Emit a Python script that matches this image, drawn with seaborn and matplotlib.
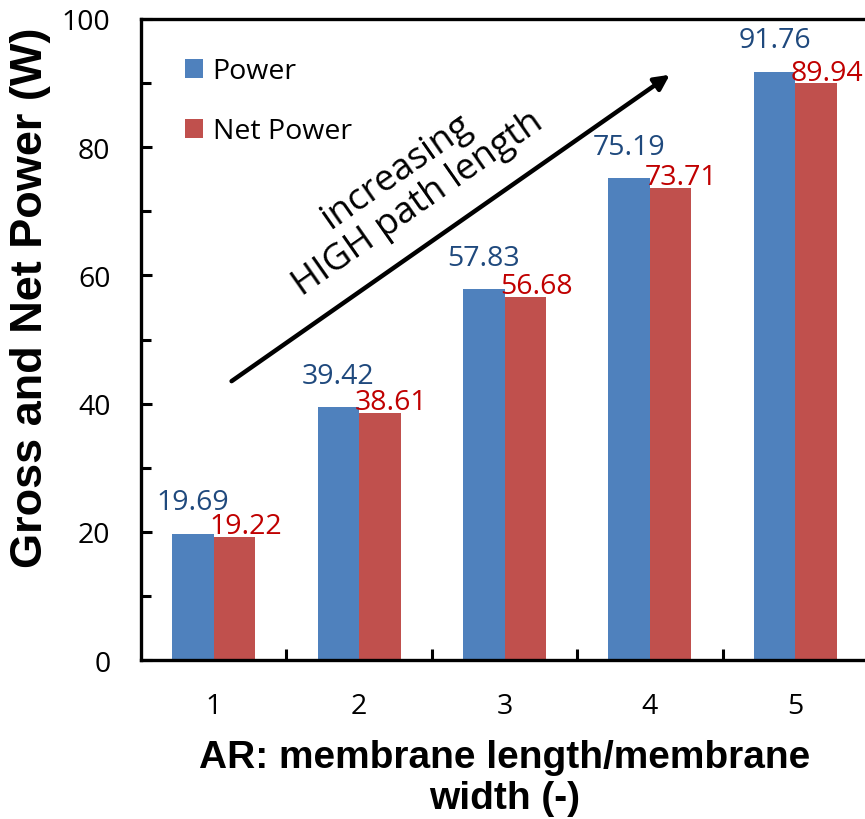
import matplotlib
matplotlib.use("Agg")
import matplotlib.pyplot as plt
import seaborn as sns
import pandas as pd
from matplotlib.ticker import MultipleLocator
from matplotlib import font_manager

categories = ["1", "2", "3", "4", "5"]
power = [19.69, 39.42, 57.83, 75.19, 91.76]
net_power = [19.22, 38.61, 56.68, 73.71, 89.94]
series_names = ["Power", "Net Power"]

df = pd.DataFrame({
    "AR": categories * 2,
    "value": power + net_power,
    "series": [series_names[0]] * len(categories) + [series_names[1]] * len(categories),
})

sns.set_style("white")
plt.rcParams["font.family"] = ["Open Sans", "DejaVu Sans"]
plt.rcParams["text.color"] = "black"
plt.rcParams["axes.labelcolor"] = "black"
plt.rcParams["xtick.color"] = "black"
plt.rcParams["ytick.color"] = "black"

# narrow bold font for the x label if present
try:
    font_manager.findfont(font_manager.FontProperties(family="Liberation Sans Narrow", weight="bold"),
                          fallback_to_default=False)
    xlab_family, xlab_size = ["Liberation Sans Narrow", "DejaVu Sans"], 33
except Exception:
    xlab_family, xlab_size = ["Liberation Sans", "DejaVu Sans"], 28

fig = plt.figure(figsize=(8.65, 8.2), dpi=100)
ax = fig.add_axes([141/865, 1 - 661/820, (868 - 141)/865, (661 - 20)/820])

bar_colors = {"Power": "#4F81BD", "Net Power": "#C0504D"}
sns.barplot(data=df, x="AR", y="value", hue="series", palette=bar_colors,
            width=0.57, saturation=1, ax=ax, edgecolor="none")

ax.set_xlim(-0.5, 4.5)
ax.set_ylim(0, 100)
ax.yaxis.set_major_locator(MultipleLocator(20))
ax.yaxis.set_minor_locator(MultipleLocator(10))
ax.set_xticks(range(len(categories)))
ax.set_xticklabels(categories)
ax.set_xticks([i + 0.5 for i in range(len(categories) - 1)], minor=True)

for s in ["left", "bottom", "top", "right"]:
    ax.spines[s].set_linewidth(2.4)
    ax.spines[s].set_color("black")

ax.tick_params(axis="y", which="major", direction="in", length=8, width=2.2, labelsize=20.5, pad=22, left=True)
ax.tick_params(axis="y", which="minor", direction="in", length=7, width=2.2, left=True)
ax.tick_params(axis="x", which="major", length=0, labelsize=20.5, pad=23)
ax.tick_params(axis="x", which="minor", direction="in", length=8, width=2.2, bottom=True)

ax.set_xlabel("AR: membrane length/membrane\nwidth (-)", fontsize=xlab_size, fontweight="bold",
              family=xlab_family, labelpad=14, linespacing=1.17)
ax.set_ylabel("Gross and Net Power (W)", fontsize=32.5, fontweight="bold",
              family=["Liberation Sans", "DejaVu Sans"])
ax.yaxis.set_label_coords(-0.124, 0.567)

# data labels
for container, vals, col, dx, dy in [
    (ax.containers[0], power, "#1F497D", 0.0, 3.8),
    (ax.containers[1], net_power, "#C00000", 0.075, 0.6),
]:
    for bar, v in zip(container, vals):
        cx = bar.get_x() + bar.get_width() / 2 + dx
        ax.text(cx, bar.get_height() + dy, f"{v:.2f}", ha="center", va="baseline",
                fontsize=20.5, color=col)

leg = ax.legend(loc="upper left", bbox_to_anchor=(0.0605, 0.94), frameon=False,
                fontsize=20.5, handlelength=0.62, handleheight=0.62, handletextpad=0.35,
                labelspacing=1.12, borderpad=0, borderaxespad=0)

ax.annotate("", xy=(3.137, 91.3), xytext=(0.123, 43.5),
            arrowprops=dict(arrowstyle="-|>,head_length=0.9,head_width=0.45",
                            color="black", lw=3.2, shrinkA=0, shrinkB=0))
ax.text(1.33, 73.8, "increasing\nHIGH path length", rotation=35, ha="center", va="center",
        fontsize=26.5, rotation_mode="anchor", linespacing=1.1)

fig.savefig("out.png", dpi=100)
